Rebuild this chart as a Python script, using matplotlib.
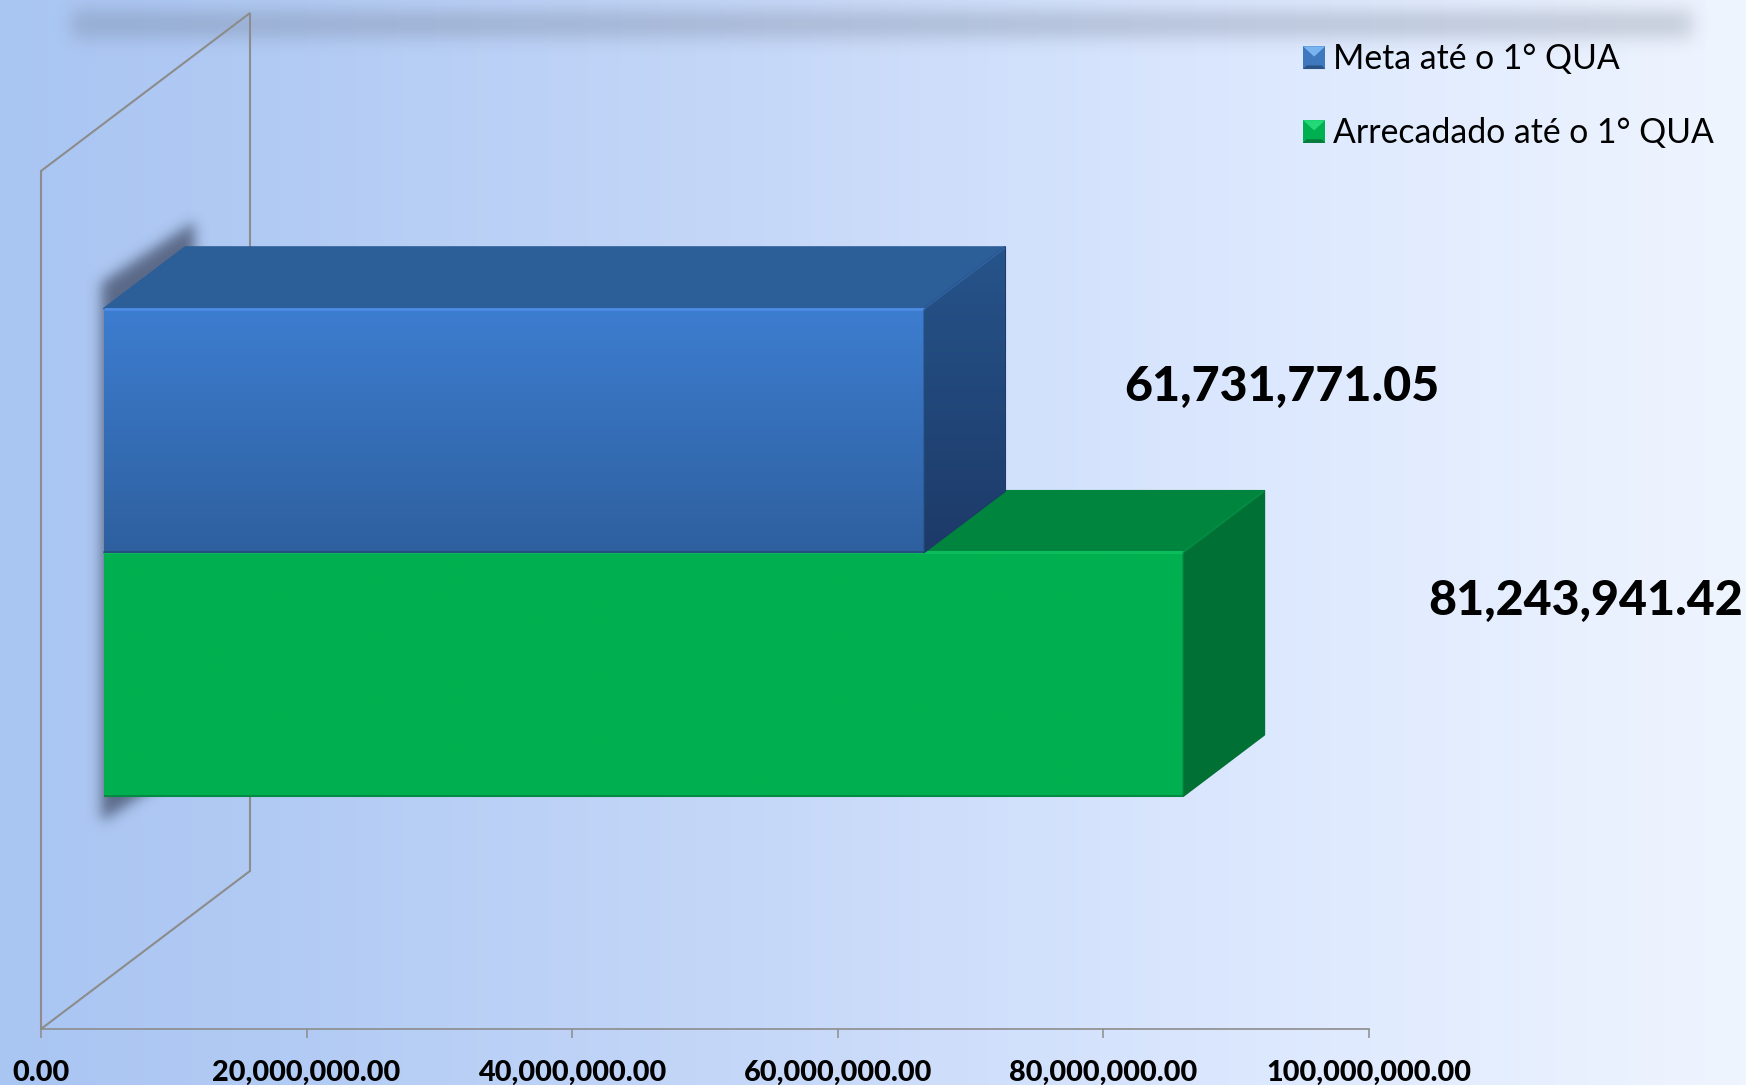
import numpy as np
import matplotlib
matplotlib.use("Agg")
import matplotlib.pyplot as plt
from matplotlib.colors import LinearSegmentedColormap, to_rgb
from matplotlib.legend_handler import HandlerBase
from matplotlib.patches import Patch, Polygon, Rectangle

plt.rcParams["font.family"] = ["Lato", "DejaVu Sans"]

# chart data
series = ["Meta até o 1° QUA", "Arrecadado até o 1° QUA"]
values = [61731771.05, 81243941.42]
x_ticks = [0, 20000000, 40000000, 60000000, 80000000, 100000000]

# colours per series
front_top = ["#3d7dd0", "#00b050"]
front_bottom = ["#2e609f", "#00b050"]
top_face = ["#2c5e98", "#00853e"]
side_top = ["#26548a", "#007034"]
side_bottom = ["#1d3a69", "#007034"]
edge_light = ["#4a8ae0", "#0cbd5c"]
edge_dark = ["#24507f", "#058a46"]
bevel_light = ["#77b4f0", "#22d877"]
bevel_mid = ["#3f78bd", "#00b050"]
bevel_dark = ["#2a5488", "#067a3a"]

# where each value label sits, in pixels from the back end of its bar
label_offsets = [(277, 18), (321, -12)]

W, H = 1746, 1085
X_MAX = 100000000
# how far the full floor depth shifts things, in data units
DEPTH_X = 209 / 1328 * X_MAX
DEPTH_Y = 158 / 858
GAP_WIDTH = 1.52
BAR_H = 1 / (len(series) + GAP_WIDTH)
BAR_D0, BAR_D1 = 0.302, 0.69


def project(x, y, d):
    return x + d * DEPTH_X, y + d * DEPTH_Y


def box_faces(x1, y0, y1):
    # corners of the front, top and side faces of one 3D bar
    front = [project(0, y0, BAR_D0), project(x1, y0, BAR_D0), project(x1, y1, BAR_D0), project(0, y1, BAR_D0)]
    top = [project(0, y1, BAR_D0), project(x1, y1, BAR_D0), project(x1, y1, BAR_D1), project(0, y1, BAR_D1)]
    side = [project(x1, y0, BAR_D0), project(x1, y0, BAR_D1), project(x1, y1, BAR_D1), project(x1, y1, BAR_D0)]
    return front, top, side


def shade(ax, verts, c_top, c_bottom, z):
    # polygon filled with a vertical gradient
    poly = Polygon(verts, closed=True, transform=ax.transData, facecolor="none", edgecolor="none")
    ax.add_patch(poly)
    xs, ys = zip(*verts)
    grad = np.linspace(np.array(to_rgb(c_top)), np.array(to_rgb(c_bottom)), 256)[:, None, :]
    im = ax.imshow(grad, extent=(min(xs), max(xs), min(ys), max(ys)), origin="upper",
                   aspect="auto", zorder=z, interpolation="bilinear")
    im.set_clip_path(poly)


def gauss_blur(sigma):
    # agg filter: soften whatever the artist drew
    def _filter(im, dpi):
        pad = int(sigma * 4)
        padded = np.pad(im, ((pad, pad), (pad, pad), (0, 0)))
        t = np.arange(-pad, pad + 1)
        k = np.exp(-t ** 2 / (2.0 * sigma ** 2))
        k = k / k.sum()
        out = padded.copy()
        alpha = padded[:, :, 3]
        alpha = np.apply_along_axis(lambda r: np.convolve(r, k, mode="same"), 0, alpha)
        alpha = np.apply_along_axis(lambda r: np.convolve(r, k, mode="same"), 1, alpha)
        mask = padded[:, :, 3] > 0
        color = padded[mask][:, :3].mean(axis=0) if mask.any() else np.zeros(3)
        out[:, :, :3] = color
        out[:, :, 3] = alpha
        return out, -pad, -pad
    return _filter


class BevelHandler(HandlerBase):
    # little pyramid swatch for the legend
    def create_artists(self, legend, orig_handle, xdescent, ydescent, width, height, fontsize, trans):
        idx = orig_handle.get_gid()
        x0, y0 = -xdescent, -ydescent
        x1, y1 = x0 + width, y0 + height
        b = 0.16 * width
        ix0, iy0, ix1, iy1 = x0 + b, y0 + b, x1 - b, y1 - b
        faces = [
            ([(x0, y0), (x1, y0), (x1, y1), (x0, y1)], bevel_mid[idx]),
            ([(x0, y1), (x1, y1), ((x0 + x1) / 2, (y0 + y1) / 2 + b * 0.3)], bevel_light[idx]),
            ([(x0, y0), (x1, y0), (ix1, iy0), (ix0, iy0)], bevel_dark[idx]),
        ]
        return [Polygon(v, closed=True, facecolor=c, edgecolor="none", transform=trans) for v, c in faces]


fig = plt.figure(figsize=(W / 100, H / 100), dpi=100)

# page background
bg = fig.add_axes([0, 0, 1, 1], zorder=0)
bg_cmap = LinearSegmentedColormap.from_list(
    "page", [(0, "#a9c5f2"), (0.16, "#b2cbf4"), (0.4, "#c3d6f8"), (0.72, "#dce8fe"), (1, "#eff5fe")])
bg.imshow(np.linspace(0, 1, 512)[None, :], cmap=bg_cmap, aspect="auto", extent=(0, W, H, 0))
bg.set_xlim(0, W)
bg.set_ylim(H, 0)
bg.axis("off")

# blurred band across the top
band = Rectangle((72, 11), 1620, 26, facecolor="#5a6478", alpha=0.27, edgecolor="none")
band.set_agg_filter(gauss_blur(9))
bg.add_patch(band)

ax = fig.add_axes([41 / W, (H - 1029) / H, 1328 / W, 858 / H], zorder=1)
ax.patch.set_visible(False)

# side wall outline
wall = [project(0, 0, 0), project(0, 1, 0), project(0, 1, 1), project(0, 0, 1)]
ax.add_patch(Polygon(wall, closed=True, facecolor="none", edgecolor="#8c8c8c", lw=1.5,
                     zorder=2, clip_on=False))

# soft shadow behind the left side of the bars
y_low = GAP_WIDTH / 2 * BAR_H
y_high = y_low + 2 * BAR_H
sx0, sy0 = project(-200000, y_low - 0.03, BAR_D0)
sx1, sy1 = project(700000, y_low - 0.03, BAR_D1)
tx0, ty0 = project(-200000, y_high + 0.03, BAR_D0)
tx1, ty1 = project(700000, y_high + 0.03, BAR_D1)
shadow = Polygon([(sx0, sy0), (sx1, sy1), (tx1, ty1), (tx0, ty0)], closed=True,
                 facecolor="#3b4660", alpha=0.72, edgecolor="none", zorder=3, clip_on=False)
shadow.set_agg_filter(gauss_blur(6.5))
ax.add_patch(shadow)

# bars, lower one first so the upper one sits on top of it
for i in [1, 0]:
    y0 = y_low + (len(series) - 1 - i) * BAR_H
    y1 = y0 + BAR_H
    z = 5 + (1 - i) * 2
    front, top, side = box_faces(values[i], y0, y1)
    ax.add_patch(Polygon(top, closed=True, facecolor=top_face[i], edgecolor=top_face[i], lw=1.5,
                         joinstyle="round", zorder=z))
    ax.add_patch(Polygon(side, closed=True, facecolor=side_bottom[i], edgecolor=side_bottom[i], lw=1.5,
                         joinstyle="round", zorder=z))
    shade(ax, side, side_top[i], side_bottom[i], z + 0.05)
    shade(ax, front, front_top[i], front_bottom[i], z + 0.1)
    # bevel lines along the box edges
    ax.plot([front[3][0], front[2][0]], [front[3][1], front[2][1]], color=edge_light[i], lw=2.2,
            zorder=z + 0.2, solid_capstyle="butt")
    ax.plot([front[0][0], front[1][0]], [front[0][1], front[1][1]], color=edge_dark[i], lw=1.5,
            zorder=z + 0.2, solid_capstyle="butt")
    ax.plot([top[1][0], top[2][0]], [top[1][1], top[2][1]], color=edge_light[i], lw=1.6, alpha=0.35,
            zorder=z + 0.2, solid_capstyle="butt")
    ax.plot([front[1][0], front[2][0]], [front[1][1], front[2][1]], color=edge_dark[i], lw=1.2, alpha=0.6,
            zorder=z + 0.2, solid_capstyle="butt")
    # value label
    bx, by = project(values[i], (y0 + y1) / 2, BAR_D1)
    ax.annotate(f"{values[i]:,.2f}", xy=(bx, by), xycoords="data",
                xytext=(label_offsets[i][0] * 0.72, -label_offsets[i][1] * 0.72), textcoords="offset points",
                ha="center", va="center", fontsize=34.8, fontweight=900, color="black",
                zorder=20, annotation_clip=False)

ax.set_xlim(0, X_MAX)
ax.set_ylim(0, 1)
ax.set_yticks([])
ax.set_xticks(x_ticks)
ax.set_xticklabels([f"{t:,.2f}" for t in x_ticks], fontsize=20.8, fontweight=900, color="black")
ax.tick_params(axis="x", length=6.5, width=1.1, color="#8c8c8c", pad=15.5)
for name in ["top", "left", "right"]:
    ax.spines[name].set_visible(False)
ax.spines["bottom"].set_color("#8c8c8c")
ax.spines["bottom"].set_linewidth(1.2)

# legend with the pyramid swatches
handles = [Patch(gid=i, label=s) for i, s in enumerate(series)]
fig.legend(handles=handles, loc="upper left", bbox_to_anchor=(1303 / W, 1 - 43.5 / H),
           frameon=False, fontsize=24.3, handler_map={Patch: BevelHandler()},
           handlelength=0.66, handleheight=0.66, handletextpad=0.22, labelspacing=1.24,
           borderaxespad=0, borderpad=0, labelcolor="black")

fig.savefig("out.png", dpi=100)
